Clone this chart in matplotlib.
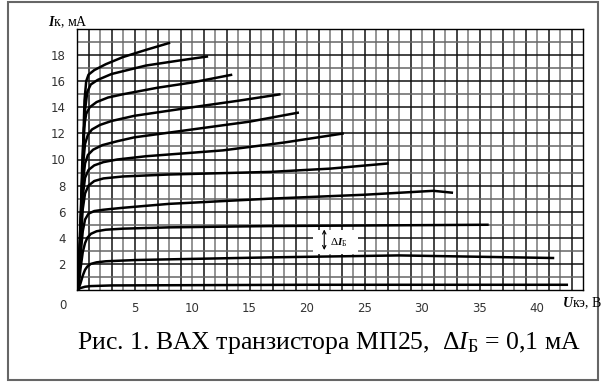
import matplotlib.pyplot as plt
from matplotlib.patches import Rectangle

plt.rcParams['mathtext.fontset'] = 'custom'
plt.rcParams['mathtext.rm'] = 'Liberation Serif'
plt.rcParams['mathtext.it'] = 'Liberation Serif:italic'
plt.rcParams['mathtext.bf'] = 'Liberation Serif:bold:italic'

# семейство выходных характеристик (Uкэ, В ; Iк, мА)
u1 = [0.1, 0.3, 0.5, 0.65, 0.8, 1.0, 1.5, 2.5, 4, 6, 8.1]
i1 = [0, 4, 10, 14.5, 16.0, 16.5, 16.85, 17.3, 17.85, 18.4, 18.95]
u2 = [0.1, 0.3, 0.5, 0.7, 0.9, 1.2, 1.8, 3, 6, 9, 11.4]
i2 = [0, 4, 9.5, 13.8, 15.2, 15.75, 16.1, 16.55, 17.2, 17.6, 17.9]
u3 = [0.1, 0.3, 0.45, 0.6, 0.8, 1.1, 1.7, 2.7, 4, 7, 10, 13.5]
i3 = [0, 5, 9.5, 12.4, 13.5, 14.0, 14.4, 14.75, 15.0, 15.5, 15.9, 16.5]
u4 = [0.1, 0.3, 0.5, 0.7, 0.95, 1.3, 2.0, 3, 5, 10, 14, 17.7]
i4 = [0, 5, 9.4, 11.2, 11.9, 12.3, 12.65, 12.95, 13.35, 14.0, 14.5, 15.0]
u5 = [0.1, 0.3, 0.5, 0.7, 0.95, 1.4, 2.2, 3.5, 5, 10, 15, 19.3]
i5 = [0, 4.5, 8.2, 9.7, 10.35, 10.75, 11.1, 11.4, 11.7, 12.3, 12.9, 13.6]
u6 = [0.1, 0.3, 0.5, 0.7, 1.0, 1.5, 2.3, 3.5, 6, 12.7, 18, 23.2]
i6 = [0, 4.0, 7.2, 8.6, 9.2, 9.55, 9.8, 10.0, 10.25, 10.7, 11.3, 12.0]
u7 = [0.1, 0.3, 0.5, 0.7, 1.0, 1.5, 2.3, 4, 8, 16.8, 22, 27.1]
i7 = [0, 3.5, 6.2, 7.4, 8.0, 8.35, 8.55, 8.7, 8.85, 9.05, 9.3, 9.7]
u8 = [0.1, 0.3, 0.5, 0.7, 1.0, 1.5, 2.3, 4, 8, 16.8, 25, 31, 32.7]
i8 = [0, 2.6, 4.5, 5.4, 5.85, 6.05, 6.15, 6.3, 6.6, 7.0, 7.3, 7.6, 7.45]
u9 = [0.1, 0.3, 0.5, 0.7, 0.9, 1.2, 1.7, 2.5, 4, 8, 16.8, 35.8]
i9 = [0, 1.6, 2.9, 3.6, 4.0, 4.3, 4.5, 4.62, 4.7, 4.8, 4.9, 5.0]
u10 = [0.1, 0.3, 0.5, 0.7, 0.9, 1.2, 1.7, 2.5, 5.2, 16.8, 28, 41.5]
i10 = [0, 0.5, 1.1, 1.55, 1.8, 2.0, 2.12, 2.2, 2.3, 2.5, 2.65, 2.45]
u11 = [0, 0.3, 0.7, 1.2, 3, 20, 42.7]
i11 = [0, 0.15, 0.25, 0.3, 0.35, 0.4, 0.4]

curves = [(u1, i1), (u2, i2), (u3, i3), (u4, i4), (u5, i5), (u6, i6),
          (u7, i7), (u8, i8), (u9, i9), (u10, i10), (u11, i11)]

x_ticks = [5, 10, 15, 20, 25, 30, 35, 40]
y_ticks = [2, 4, 6, 8, 10, 12, 14, 16, 18]

fig = plt.figure(figsize=(6.02, 3.85), dpi=100)
fig.patches.append(Rectangle((8 / 602, 5 / 385), 590 / 602, 378 / 385,
                             transform=fig.transFigure, fill=False,
                             edgecolor='#666666', lw=1.5))

ax = fig.add_axes([77 / 602, 95 / 385, 506 / 602, 261 / 385])
ax.set_xlim(0, 44)
ax.set_ylim(0, 20)

# сетка 1 В x 1 мА
for v in range(1, 44):
    ax.axvline(v, color='#111111' if v % 2 else '#777777', lw=1.1, zorder=1)
for i in range(1, 20):
    ax.axhline(i, color='#111111' if i % 2 == 0 else '#666666', lw=1.1, zorder=1)

for u, i in curves:
    ax.plot(u, i, color='black', lw=1.8, solid_capstyle='butt',
            solid_joinstyle='round', zorder=3)

for s in ax.spines.values():
    s.set_color('black')
    s.set_linewidth(1.0)

ax.set_xticks(x_ticks)
ax.set_yticks(y_ticks)
ax.tick_params(length=0, labelsize=8.5, labelcolor='#333333')
ax.tick_params(axis='x', pad=9)
ax.tick_params(axis='y', pad=8)
ax.text(-1.2, -1.15, '0', fontsize=8.5, color='#333333', ha='center', va='center')

# подпись ΔIБ
ax.add_patch(Rectangle((20.5, 2.75), 3.9, 1.85, facecolor='white',
                       edgecolor='none', zorder=4))
ax.annotate('', xy=(21.5, 4.85), xytext=(21.5, 2.85),
            arrowprops=dict(arrowstyle='<->', color='black', lw=0.8,
                            mutation_scale=6), zorder=5)
ax.text(22.0, 3.6, r'$\Delta\mathbf{I}_{\mathrm{Б}}$', fontsize=8,
        ha='left', va='center', zorder=5)

fig.text(48 / 602, 1 - 22 / 385, r'$\mathbf{I}$к, мА', fontsize=10,
         family='Liberation Serif', ha='left', va='center')
fig.text(562 / 602, 1 - 303 / 385, r'$\mathbf{U}$кэ, В', fontsize=10,
         family='Liberation Serif', ha='left', va='center')

fig.text(329 / 602, 1 - 343 / 385,
         r'Рис. 1. ВАХ транзистора МП25,  Δ$\mathit{I}_{\mathrm{Б}}$ = 0,1 мА',
         fontsize=18.5, family='Liberation Serif', ha='center', va='center')

fig.savefig('out.png', dpi=100)
